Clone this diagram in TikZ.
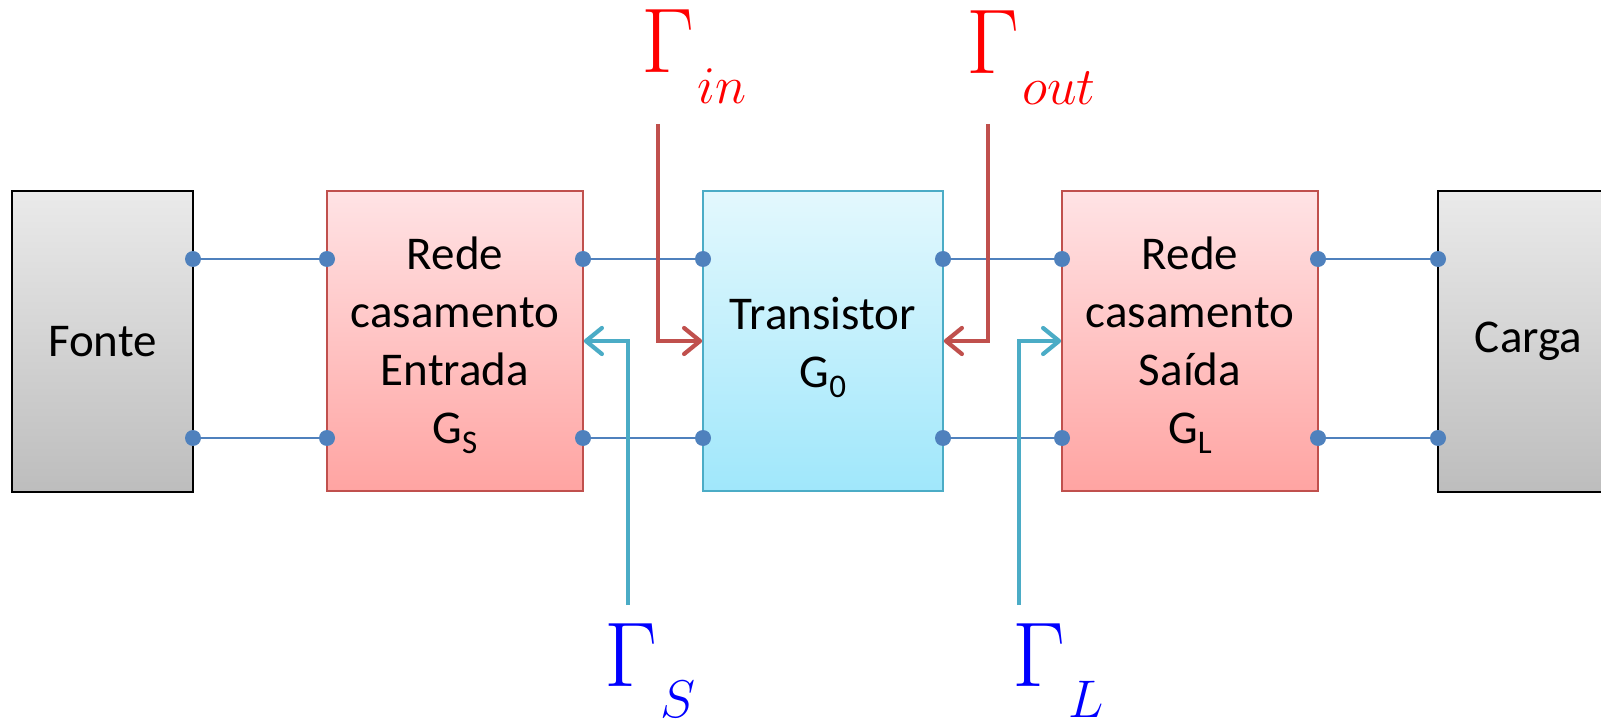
\RequirePackage{fix-cm}
\documentclass[tikz,border=0pt]{standalone}
\usepackage{fontspec}
\setmainfont{Carlito}
\usetikzlibrary{arrows.meta}
\definecolor{boxred}{HTML}{C0504D}
\definecolor{redtop}{HTML}{FFE3E5}
\definecolor{redbot}{HTML}{FFA4A2}
\definecolor{cyanedge}{HTML}{4BACC6}
\definecolor{cyantop}{HTML}{E3F8FD}
\definecolor{cyanbot}{HTML}{A0E7FB}
\definecolor{graytop}{HTML}{EAEAEA}
\definecolor{graybot}{HTML}{BDBDBD}
\definecolor{wire}{HTML}{4F81BD}
\newcommand\sbs[1]{\raisebox{-5pt}{\fontsize{16.5}{16.5}\selectfont #1}}
\newcommand\gam[1]{$\Gamma$\kern1.5pt\raisebox{-15.5pt}{\fontsize{26.5}{26.5}\selectfont$#1$}}
\begin{document}
\begin{tikzpicture}[x=0.5pt,y=-0.5pt,
 lbl/.style={font=\fontsize{23.5}{29}\selectfont, align=center, inner sep=0},
 graybox/.style={draw=black, line width=0.9pt, top color=graytop, bottom color=graybot, minimum width=90.5pt, minimum height=150.5pt, inner sep=0},
 redbox/.style={draw=boxred, line width=0.8pt, top color=redtop, bottom color=redbot, minimum width=128pt, minimum height=150pt, inner sep=0},
 trbox/.style={draw=cyanedge, line width=0.8pt, top color=cyantop, bottom color=cyanbot, minimum width=120pt, minimum height=150pt, inner sep=0},
 port/.style={circle, fill=wire, inner sep=0, minimum size=8pt},
 wireline/.style={draw=wire, line width=1pt},
 gammalbl/.style={font=\fontsize{46}{46}\selectfont, inner sep=0, anchor=base west},
 refl/.style={line width=2.1pt, -{Straight Barb[length=8pt,width=13pt,round]}},
]
\useasboundingbox (0,0) rectangle (1601,727);
% boxes
\node[graybox] (fonte) at (102.5,341.5) {};
\node[redbox] (in) at (455,341) {};
\node[trbox] (tr) at (823,341) {};
\node[redbox] (out) at (1190,341) {};
\node[graybox] (carga) at (1528.5,341.5) {};
% texts
\node[lbl] (fontelbl) at (102.5,341.5) {Fonte};
\node[lbl] (cargalbl) at (1528.5,341.5) {Carga};
\node[lbl] (inlbl) at (455,345.5) {Rede\\casamento\\Entrada\\G\sbs{S}};
\node[lbl] (trlbl) at (823,347.5) {Transistor\\G\sbs{0}};
\node[lbl] (outlbl) at (1190,345.5) {Rede\\casamento\\Saída\\G\sbs{L}};
% ports
\foreach \n/\x in {f/193,a/327,b/583,c/703,d/943,e/1062,g/1318,h/1438}{
  \node[port] (\n1) at (\x,259) {};
  \node[port] (\n2) at (\x,438) {};
}
% wires
\foreach \p/\q in {f/a,b/c,d/e,g/h}{
  \draw[wireline] (\p1) -- (\q1);
  \draw[wireline] (\p2) -- (\q2);
}
% reflection labels
\node[gammalbl, text=red] (gin) at (641,73) {\gam{in}};
\node[gammalbl, text=red] (gout) at (966,74) {\gam{out}};
\node[gammalbl, text=blue] (gs) at (604,686) {\gam{S}};
\node[gammalbl, text=blue] (gl) at (1012,686) {\gam{L}};
% reflection arrows
\coordinate (ginS) at (658,124);
\coordinate (goutS) at (988,124);
\coordinate (gsS) at (628,605);
\coordinate (glS) at (1019,605);
\draw[refl, boxred] (ginS) |- (tr.west);
\draw[refl, boxred] (goutS) |- (tr.east);
\draw[refl, cyanedge] (gsS) |- (in.east);
\draw[refl, cyanedge] (glS) |- (out.west);
\end{tikzpicture}
\end{document}
